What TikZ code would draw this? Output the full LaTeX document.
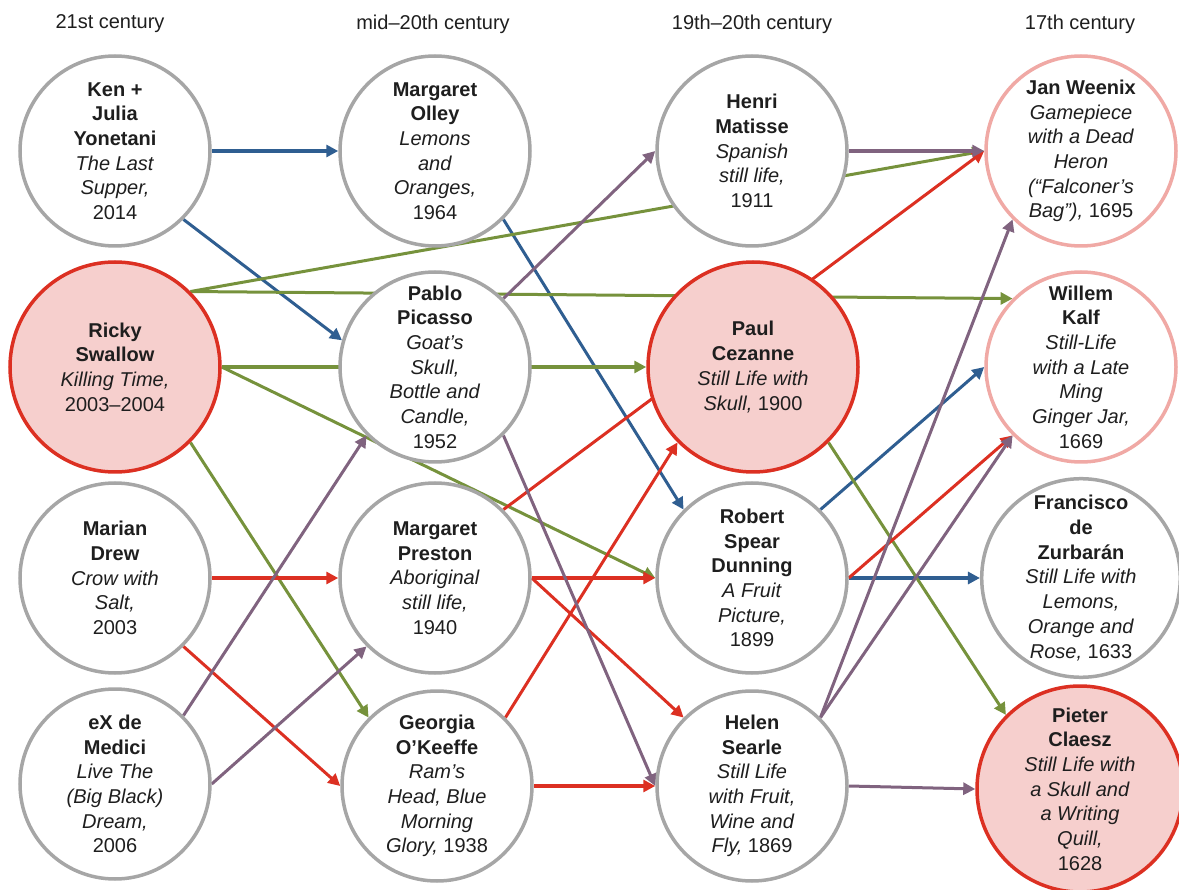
\documentclass[tikz,border=0pt]{standalone}
\usepackage{fontspec}
\setmainfont{Liberation Sans}
\usetikzlibrary{arrows.meta}
\pgfdeclarelayer{bg}
\pgfsetlayers{bg,main}
\definecolor{cblue}{HTML}{2F5E91}
\definecolor{cgreen}{HTML}{76923C}
\definecolor{cred}{HTML}{DC3022}
\definecolor{cpurple}{HTML}{80637F}
\definecolor{cgray}{HTML}{A6A6A6}
\definecolor{credfill}{HTML}{F6CFCD}
\definecolor{cpink}{HTML}{F0A9A5}
\definecolor{ctext}{HTML}{1E1E1E}
\tikzset{
  art/.style={circle, draw=cgray, line width=3.5pt, fill=white, minimum size=190pt,
    inner sep=0pt, align=center, text=ctext, font=\fontsize{20}{24.7}\selectfont},
  keyart/.style={art, draw=cred, fill=credfill, minimum size=210pt},
  pinkart/.style={art, draw=cpink},
  hdr/.style={text=ctext, font=\fontsize{20}{24}\selectfont},
  conn/.style={line width=3pt, -{Triangle[length=12pt,width=12pt]}},
  thick conn/.style={conn, line width=4pt},
}
\begin{document}
\begin{tikzpicture}[x=1pt,y=-1pt]
\useasboundingbox (0,0) rectangle (1179,890);
% headers
\node[hdr] (h1) at (110,24) {21st century};
\node[hdr] (h2) at (433,24) {mid–20th century};
\node[hdr] (h3) at (752,24) {19th–20th century};
\node[hdr] (h4) at (1080,24) {17th century};
% column 1
\node[art] (ken) at (115,151) {\textbf{Ken +}\\\textbf{Julia}\\\textbf{Yonetani}\\\textit{The Last}\\\textit{Supper,}\\2014};
\node[keyart] (ricky) at (115,367) {\textbf{Ricky}\\\textbf{Swallow}\\\textit{Killing Time,}\\2003–2004};
\node[art] (marian) at (115,578) {\textbf{Marian}\\\textbf{Drew}\\\textit{Crow with}\\\textit{Salt,}\\2003};
\node[art] (ex) at (115,784) {\textbf{eX de}\\\textbf{Medici}\\\textit{Live The}\\\textit{(Big Black)}\\\textit{Dream,}\\2006};
% column 2
\node[art] (olley) at (435,151) {\textbf{Margaret}\\\textbf{Olley}\\\textit{Lemons}\\\textit{and}\\\textit{Oranges,}\\1964};
\node[art] (pablo) at (435,367) {\textbf{Pablo}\\\textbf{Picasso}\\\textit{Goat’s}\\\textit{Skull,}\\\textit{Bottle and}\\\textit{Candle,}\\1952};
\node[art] (preston) at (435,578) {\textbf{Margaret}\\\textbf{Preston}\\\textit{Aboriginal}\\\textit{still life,}\\1940};
\node[art] (georgia) at (437,786) {\textbf{Georgia}\\\textbf{O’Keeffe}\\\textit{Ram’s}\\\textit{Head, Blue}\\\textit{Morning}\\\textit{Glory,} 1938};
% column 3
\node[art] (henri) at (752,151) {\textbf{Henri}\\\textbf{Matisse}\\\textit{Spanish}\\\textit{still life,}\\1911};
\node[keyart] (paul) at (753,367) {\textbf{Paul}\\\textbf{Cezanne}\\\textit{Still Life with}\\\textit{Skull,} 1900};
\node[art] (robert) at (752,578) {\textbf{Robert}\\\textbf{Spear}\\\textbf{Dunning}\\\textit{A Fruit}\\\textit{Picture,}\\1899};
\node[art] (helen) at (752,786) {\textbf{Helen}\\\textbf{Searle}\\\textit{Still Life}\\\textit{with Fruit,}\\\textit{Wine and}\\\textit{Fly,} 1869};
% column 4
\node[pinkart] (jan) at (1081,151) {\textbf{Jan Weenix}\\\textit{Gamepiece}\\\textit{with a Dead}\\\textit{Heron}\\\textit{(“Falconer’s}\\\textit{Bag”),} 1695};
\node[pinkart] (willem) at (1081,367) {\textbf{Willem}\\\textbf{Kalf}\\\textit{Still-Life}\\\textit{with a Late}\\\textit{Ming}\\\textit{Ginger Jar,}\\1669};
\node[art] (francisco) at (1081,578) {\textbf{Francisco}\\\textbf{de}\\\textbf{Zurbarán}\\\textit{Still Life with}\\\textit{Lemons,}\\\textit{Orange and}\\\textit{Rose,} 1633};
\node[keyart, minimum size=206pt] (pieter) at (1080,789) {\textbf{Pieter}\\\textbf{Claesz}\\\textit{Still Life with}\\\textit{a Skull and}\\\textit{a Writing}\\\textit{Quill,}\\1628};
% connectors
\begin{pgfonlayer}{bg}
% blue
\draw[thick conn, cblue] (ken.east) -- (olley.west);
\draw[conn, cblue] (ken.-45) -- (pablo.164);
\draw[conn, cblue] (olley.-45) -- (robert.135);
\draw[conn, cblue] (robert.45) -- (willem.west);
\draw[thick conn, cblue] (robert.east) -- (francisco.west);
% green
\draw[conn, cgreen] (ricky.45) -- (jan.west);
\draw[conn, cgreen] (ricky.45) -- (willem.135);
\draw[thick conn, cgreen] (ricky.east) -- (paul.west);
\draw[conn, cgreen] (ricky.east) -- (robert.west);
\draw[conn, cgreen] (ricky.-45) -- (georgia.135);
\draw[conn, cgreen] (paul.-45) -- (pieter.135);
% red
\draw[thick conn, cred] (marian.east) -- (preston.west);
\draw[conn, cred] (marian.-45) -- (georgia.west);
\draw[thick conn, cred] (preston.east) -- (robert.west);
\draw[conn, cred] (preston.east) -- (helen.135);
\draw[conn, cred] (preston.45) -- (jan.west);
\draw[conn, cred] (georgia.45) -- (paul.-135);
\draw[thick conn, cred] (georgia.east) -- (helen.west);
\draw[conn, cred] (robert.east) -- (willem.-135);
% purple
\draw[conn, cpurple] (pablo.45) -- (henri.west);
\draw[conn, cpurple] (pablo.-45) -- (helen.west);
\draw[conn, cpurple] (ex.45) -- (pablo.-135);
\draw[conn, cpurple] (ex.east) -- (preston.-135);
\draw[thick conn, cpurple] (henri.east) -- (jan.west);
\draw[conn, cpurple] (helen.45) -- (jan.-135);
\draw[conn, cpurple] (helen.45) -- (willem.-135);
\draw[conn, cpurple] (helen.east) -- (pieter.west);
\end{pgfonlayer}
\end{tikzpicture}
\end{document}
